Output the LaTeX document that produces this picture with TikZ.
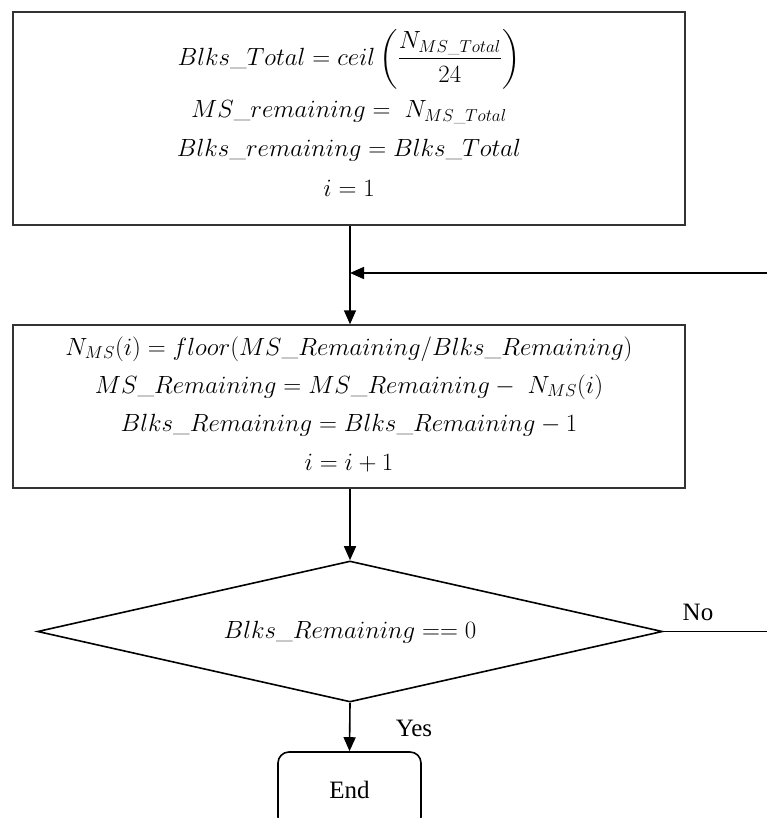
\documentclass[tikz,border=0pt]{standalone}
\usepackage{amsmath}
\usepackage{fontspec}
\newfontfamily\tnr{Liberation Serif}
\usetikzlibrary{arrows.meta,shapes.geometric}
\begin{document}
\begin{tikzpicture}[x=1pt,y=-1pt,
  box/.style={draw=black!80,line width=1.4pt,rectangle,inner sep=0pt},
  mline/.style={inner sep=0pt,anchor=center,font=\fontsize{24}{28}\selectfont},
  lbl/.style={inner sep=0pt,font=\tnr\fontsize{25}{28}\selectfont},
  conn/.style={line width=1.6pt},
  arr/.style={conn,-{Triangle[length=14pt,width=12pt]}}]
\useasboundingbox (0,0) rectangle (767,818);
% boxes
\node[box,minimum width=672pt,minimum height=213pt] (b1) at (349,118.5) {};
\node[box,minimum width=672pt,minimum height=163pt] (b2) at (349,406.5) {};
\node[draw,line width=1.6pt,diamond,minimum width=625pt,minimum height=141pt,inner sep=0pt,aspect=4.4] (dec) at (350,631.5) {};
\node[draw,line width=1.6pt,rounded corners=11pt,minimum width=143pt,minimum height=76pt,inner sep=0pt] (end) at (349.5,790) {};
% texts box 1
\node[mline] (t11) at (349,59) {$\displaystyle Blks\_Total = ceil\left(\frac{N_{MS\_Total}}{24}\right)$};
\node[mline] (t12) at (349,112) {$MS\_remaining =\ N_{MS\_Total}$};
\node[mline] (t13) at (349,150) {$Blks\_remaining = Blks\_Total$};
\node[mline] (t14) at (349,188) {$i = 1$};
% texts box 2
\node[mline] (t21) at (349,349) {$N_{MS}(i) = floor(MS\_Remaining/Blks\_Remaining)$};
\node[mline] (t22) at (349,387) {$MS\_Remaining = MS\_Remaining -\ N_{MS}(i)$};
\node[mline] (t23) at (349,425) {$Blks\_Remaining = Blks\_Remaining - 1$};
\node[mline] (t24) at (349,463) {$i = i + 1$};
% decision text
\node[mline] (dt) at (350,632) {$Blks\_Remaining == 0$};
\node[lbl] (endt) at (349.5,790) {End};
\node[lbl] (no) at (698,612) {No};
\node[lbl] (yes) at (414,728) {Yes};
% connectors
\coordinate (join) at (350,273);
\coordinate (rtop) at (775,273);
\coordinate (rbot) at (775,631.5);
\draw[arr] (b1.south -| join) -- (b2.north -| join);
\draw[arr] (dec.east) -- (rbot) -- (rtop) -- (join);
\draw[arr] (b2.south -| join) -- (dec.north);
\draw[arr] (dec.south) -- (end.north);
\end{tikzpicture}
\end{document}
